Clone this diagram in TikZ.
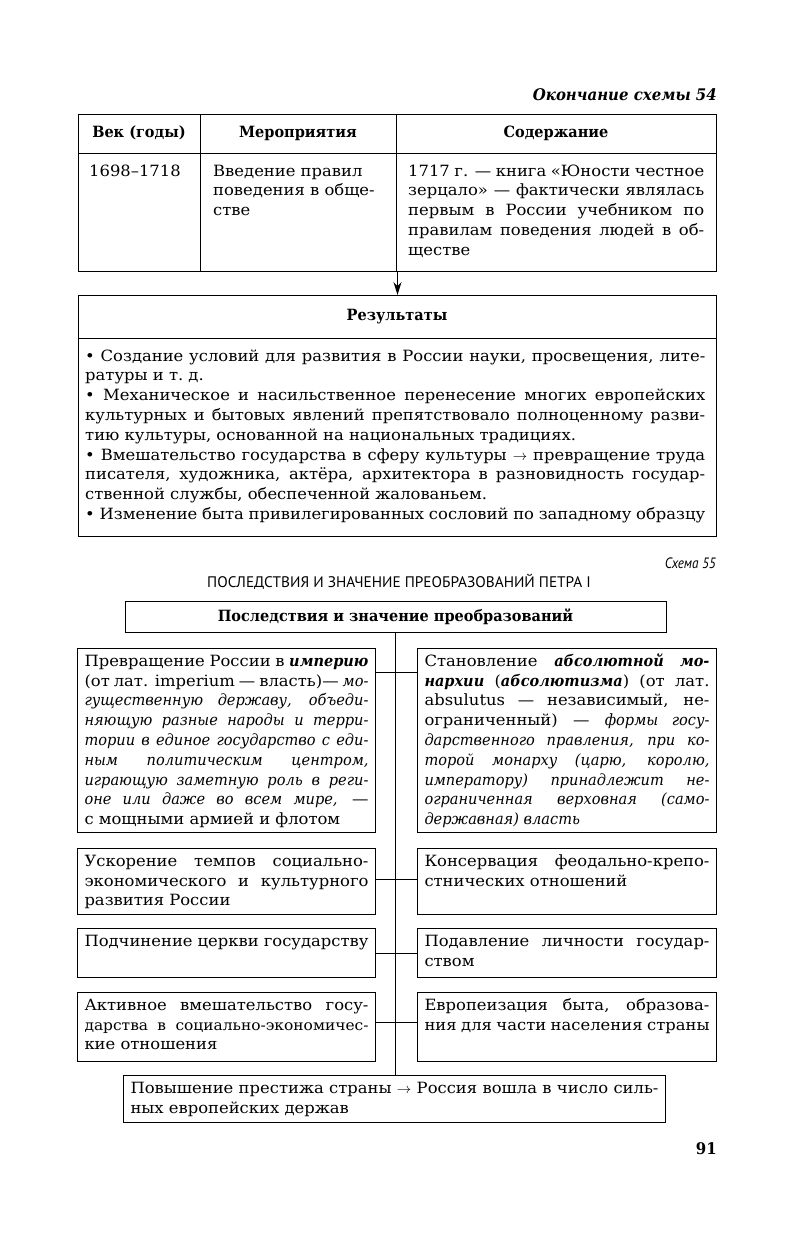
\documentclass[tikz,border=0pt]{standalone}
\usepackage{fontspec}
\setmainfont{DejaVu Serif}[UprightFeatures={FakeStretch=1.057}, BoldFeatures={FakeStretch=0.935}, ItalicFeatures={FakeStretch=0.94}, BoldItalicFeatures={FakeStretch=0.935}]
\newfontfamily\sansn[FakeStretch=0.88]{PT Sans}
\newfontfamily\sansw{PT Sans}
\usetikzlibrary{arrows.meta}
\newcommand\bodyf{\fontsize{15.5}{19.8}\selectfont}
\newcommand\bi[1]{\textbf{\textit{#1}}}
\newcommand\nohy{\hyphenpenalty=10000 \exhyphenpenalty=10000 \tolerance=9999 }
\tikzset{
  frame/.style={draw, line width=1pt, inner sep=0pt},
  box/.style={draw, line width=1pt, inner xsep=7pt, inner ysep=4pt, anchor=north west, font=\bodyf},
  link/.style={line width=1pt},
}
\newcommand\bx[6]{\node[box] (#1) at (#2,#3) {\parbox[c][\dimexpr#5pt-8pt\relax][t]{\dimexpr#4pt-14pt\relax}{\nohy\strut#6}};}
\begin{document}
\begin{tikzpicture}[x=1pt,y=-1pt]
\fill[white] (0,0) rectangle (791,1245);
\useasboundingbox (0,0) rectangle (791,1245);

% ---------- end of scheme 54 ----------
\node[anchor=base east, inner sep=0, font=\fontsize{16}{18}\selectfont\bfseries\itshape] (cont) at (717,100) {Окончание схемы 54};

\node[frame, minimum width=638pt, minimum height=157pt, anchor=north west] (tab) at (78,114) {};
\draw[link] (tab.west |- 0,153) -- (tab.east |- 0,153);
\draw[link] (tab.north -| 200,0) -- (tab.south -| 200,0);
\draw[link] (tab.north -| 396,0) -- (tab.south -| 396,0);
\node[font=\bodyf\bfseries] (h1) at (139,133) {Век (годы)};
\node[font=\bodyf\bfseries] (h2) at (298,133) {Мероприятия};
\node[font=\bodyf\bfseries] (h3) at (556,133) {Содержание};
\node[anchor=north west, inner sep=0, font=\bodyf, align=left] (c1) at (89,162) {\strut 1698–1718};
\node[anchor=north west, inner sep=0, font=\bodyf, align=left] (c2) at (213,162) {\strut Введение правил\\поведения в обще-\\стве};
\node[anchor=north west, inner sep=0, font=\bodyf, text width=296pt, align=justify] (c3) at (408,162) {\nohy\strut 1717 г. — книга «Юности честное\linebreak зерцало» — фактически являлась\linebreak первым в России учебником по\linebreak правилам поведения людей в об-\linebreak ществе};

\node[frame, minimum width=638pt, minimum height=241pt, anchor=north west] (res) at (78,295) {};
\draw[-{Stealth[length=13pt,width=8pt]}, link] (tab.south) -- (res.north);
\draw[link] (res.west |- 0,338) -- (res.east |- 0,338);
\node[font=\bodyf\bfseries] (rt) at (397,317) {Результаты};
\node[anchor=north west, inner sep=0, text width=620pt, align=justify, font=\bodyf] (rb) at (85,347) {\nohy\strut • Создание условий для развития в России науки, просвещения, лите-\linebreak ратуры и т.~д.\\ • Механическое и насильственное перенесение многих европейских\linebreak культурных и бытовых явлений препятствовало полноценному разви-\linebreak тию культуры, основанной на национальных традициях.\\ • Вмешательство государства в сферу культуры $\to$ превращение труда\linebreak писателя, художника, актёра, архитектора в разновидность государ-\linebreak ственной службы, обеспеченной жалованьем.\\ • Изменение быта привилегированных сословий по западному образцу};

% ---------- scheme 55 ----------
\node[anchor=base east, inner sep=0, font=\sansn\itshape\fontsize{15}{18}\selectfont] (sch) at (716,568) {Схема 55};
\node[anchor=base, inner sep=0, font=\sansw\fontsize{15.3}{18}\selectfont] (ttl) at (399,587) {ПОСЛЕДСТВИЯ И ЗНАЧЕНИЕ ПРЕОБРАЗОВАНИЙ ПЕТРА I};

\node[frame, minimum width=541pt, minimum height=31pt, font=\bodyf\bfseries] (hdr) at (395.5,616.5) {Последствия и значение преобразований};

\bx{l1}{77}{648}{298}{184}{Превращение России в \bi{империю}\linebreak (от лат. imperium — власть)— \textit{мо-\linebreak гущественную державу, объеди-\linebreak няющую разные народы и терри-\linebreak тории в единое государство с еди-\linebreak ным политическим центром,\linebreak играющую заметную роль в реги-\linebreak оне или даже во всем мире,} —\linebreak с мощными армией и флотом}
\bx{r1}{417}{648}{299}{184}{Становление \bi{абсолютной мо-\linebreak нархии} (\bi{абсолютизма}) (от лат.\linebreak absulutus — независимый, не-\linebreak ограниченный) — \textit{формы госу-\linebreak дарственного правления, при ко-\linebreak торой монарху (царю, королю,\linebreak императору) принадлежит не-\linebreak ограниченная верховная (само-\linebreak державная) власть}}
\bx{l2}{77}{848}{298}{66}{Ускорение темпов социально-\linebreak экономического и культурного\linebreak развития России}
\bx{r2}{417}{848}{299}{66}{Консервация феодально-крепо-\linebreak стнических отношений}
\bx{l3}{77}{928}{298}{49}{Подчинение церкви государству}
\bx{r3}{417}{928}{299}{49}{Подавление личности государ-\linebreak ством}
\bx{l4}{77}{992}{298}{69}{Активное вмешательство госу-\linebreak {\fontsize{14.6}{19.8}\selectfont дарства в социально-экономичес-}\linebreak кие отношения}
\bx{r4}{417}{992}{299}{69}{Европеизация быта, образова-\linebreak ния для части населения страны}
\bx{bot}{123}{1075}{542}{47}{Повышение престижа страны $\to$ Россия вошла в число силь-\linebreak ных европейских держав}

\draw[link] (hdr.south) -- (hdr.south |- bot.north);
\draw[link] (l1.east |- 0,672) -- (r1.west |- 0,672);
\draw[link] (l2.east |- 0,879) -- (r2.west |- 0,879);
\draw[link] (l3.east |- 0,953) -- (r3.west |- 0,953);
\draw[link] (l4.east |- 0,1022) -- (r4.west |- 0,1022);

\node[anchor=base east, inner sep=0, font=\bfseries\fontsize{16}{18}\selectfont] (pg) at (717,1154) {91};
\end{tikzpicture}
\end{document}
